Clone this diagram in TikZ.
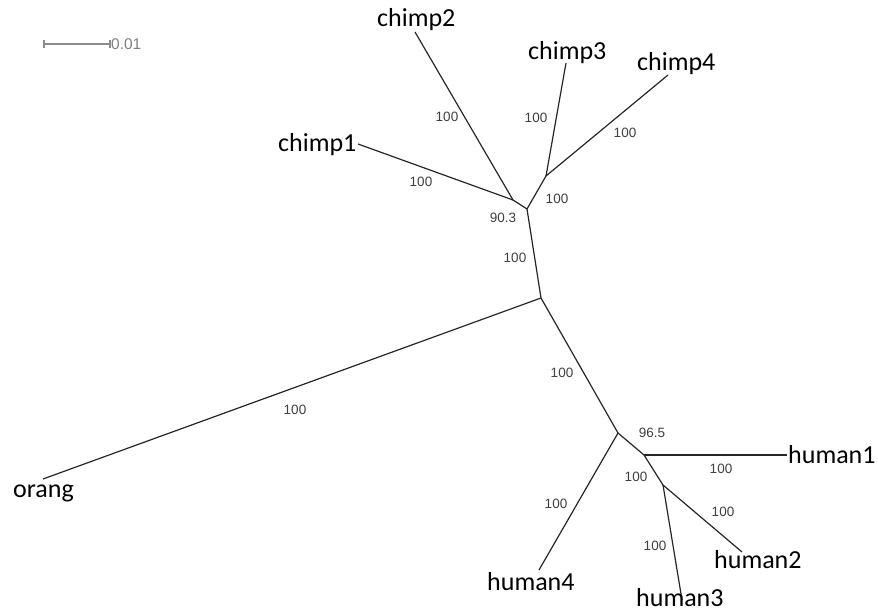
\documentclass[tikz,border=0pt]{standalone}
\usepackage{fontspec}
\setmainfont{Carlito}
\newfontfamily\bootfont{Liberation Sans}
\begin{document}
\begin{tikzpicture}[x=1pt,y=-1pt,
  branch/.style={line width=1.2pt, draw=black!85},
  leaflabel/.style={inner sep=0pt, anchor=base west, font=\fontsize{26}{26}\selectfont},
  boot/.style={inner sep=0pt, anchor=center, text=black!75, font=\fontsize{13.5}{14}\bootfont},
  scalebar/.style={line width=1.2pt, draw=black!45}]
\useasboundingbox (0,0) rectangle (878,612);
% internal nodes
\coordinate (A) at (513,200);
\coordinate (B) at (527,209);
\coordinate (C) at (546,176);
\coordinate (R) at (541,298);
\coordinate (H) at (618,433);
\coordinate (HA) at (644,455);
\coordinate (HB) at (663,485);
% leaf ends
\coordinate (c1) at (358,144);
\coordinate (c2) at (415,32);
\coordinate (c3) at (566,63);
\coordinate (c4) at (668,75);
\coordinate (or) at (43,479);
\coordinate (h1) at (787,455);
\coordinate (h2) at (742,552);
\coordinate (h3) at (682,600);
\coordinate (h4) at (539,570);
% branches
\draw[branch] (A) -- (c1);
\draw[branch] (A) -- (c2);
\draw[branch] (A) -- (B);
\draw[branch] (B) -- (C);
\draw[branch] (C) -- (c3);
\draw[branch] (C) -- (c4);
\draw[branch] (B) -- (R);
\draw[branch] (R) -- (or);
\draw[branch] (R) -- (H);
\draw[branch] (H) -- (h4);
\draw[branch] (H) -- (HA);
\draw[branch] (HA) -- (h1);
\draw[branch] (HA) -- (HB);
\draw[branch] (HB) -- (h2);
\draw[branch] (HB) -- (h3);
% leaf labels
\node[leaflabel] (lc1) at (278,152) {chimp1};
\node[leaflabel] (lc2) at (377,27) {chimp2};
\node[leaflabel] (lc3) at (528,60) {chimp3};
\node[leaflabel] (lc4) at (637,71) {chimp4};
\node[leaflabel] (lor) at (13,497) {orang};
\node[leaflabel] (lh1) at (788,463) {human1};
\node[leaflabel] (lh2) at (714,568) {human2};
\node[leaflabel] (lh3) at (636,606) {human3};
\node[leaflabel] (lh4) at (487,590) {human4};
% bootstrap values
\node[boot] (b1) at (447,117) {100};
\node[boot] (b2) at (421,182) {100};
\node[boot] (b3) at (503,218) {90.3};
\node[boot] (b4) at (536,118) {100};
\node[boot] (b5) at (625,133) {100};
\node[boot] (b6) at (557,199) {100};
\node[boot] (b7) at (515,258) {100};
\node[boot] (b8) at (295,410) {100};
\node[boot] (b9) at (562,373) {100};
\node[boot] (b10) at (652,433) {96.5};
\node[boot] (b11) at (721,469) {100};
\node[boot] (b12) at (636,477) {100};
\node[boot] (b13) at (556,504) {100};
\node[boot] (b14) at (723,512) {100};
\node[boot] (b15) at (655,546) {100};
% scale bar
\coordinate (s1) at (44,44);
\coordinate (s2) at (110,44);
\draw[scalebar] (s1) -- (s2);
\draw[scalebar] ([yshift=-4]s1) -- ([yshift=4]s1);
\draw[scalebar] ([yshift=-4]s2) -- ([yshift=4]s2);
\node[inner sep=0pt, anchor=west, text=black!50, font=\fontsize{15.5}{16}\bootfont] (sl) at (111,44) {0.01};
\end{tikzpicture}
\end{document}
